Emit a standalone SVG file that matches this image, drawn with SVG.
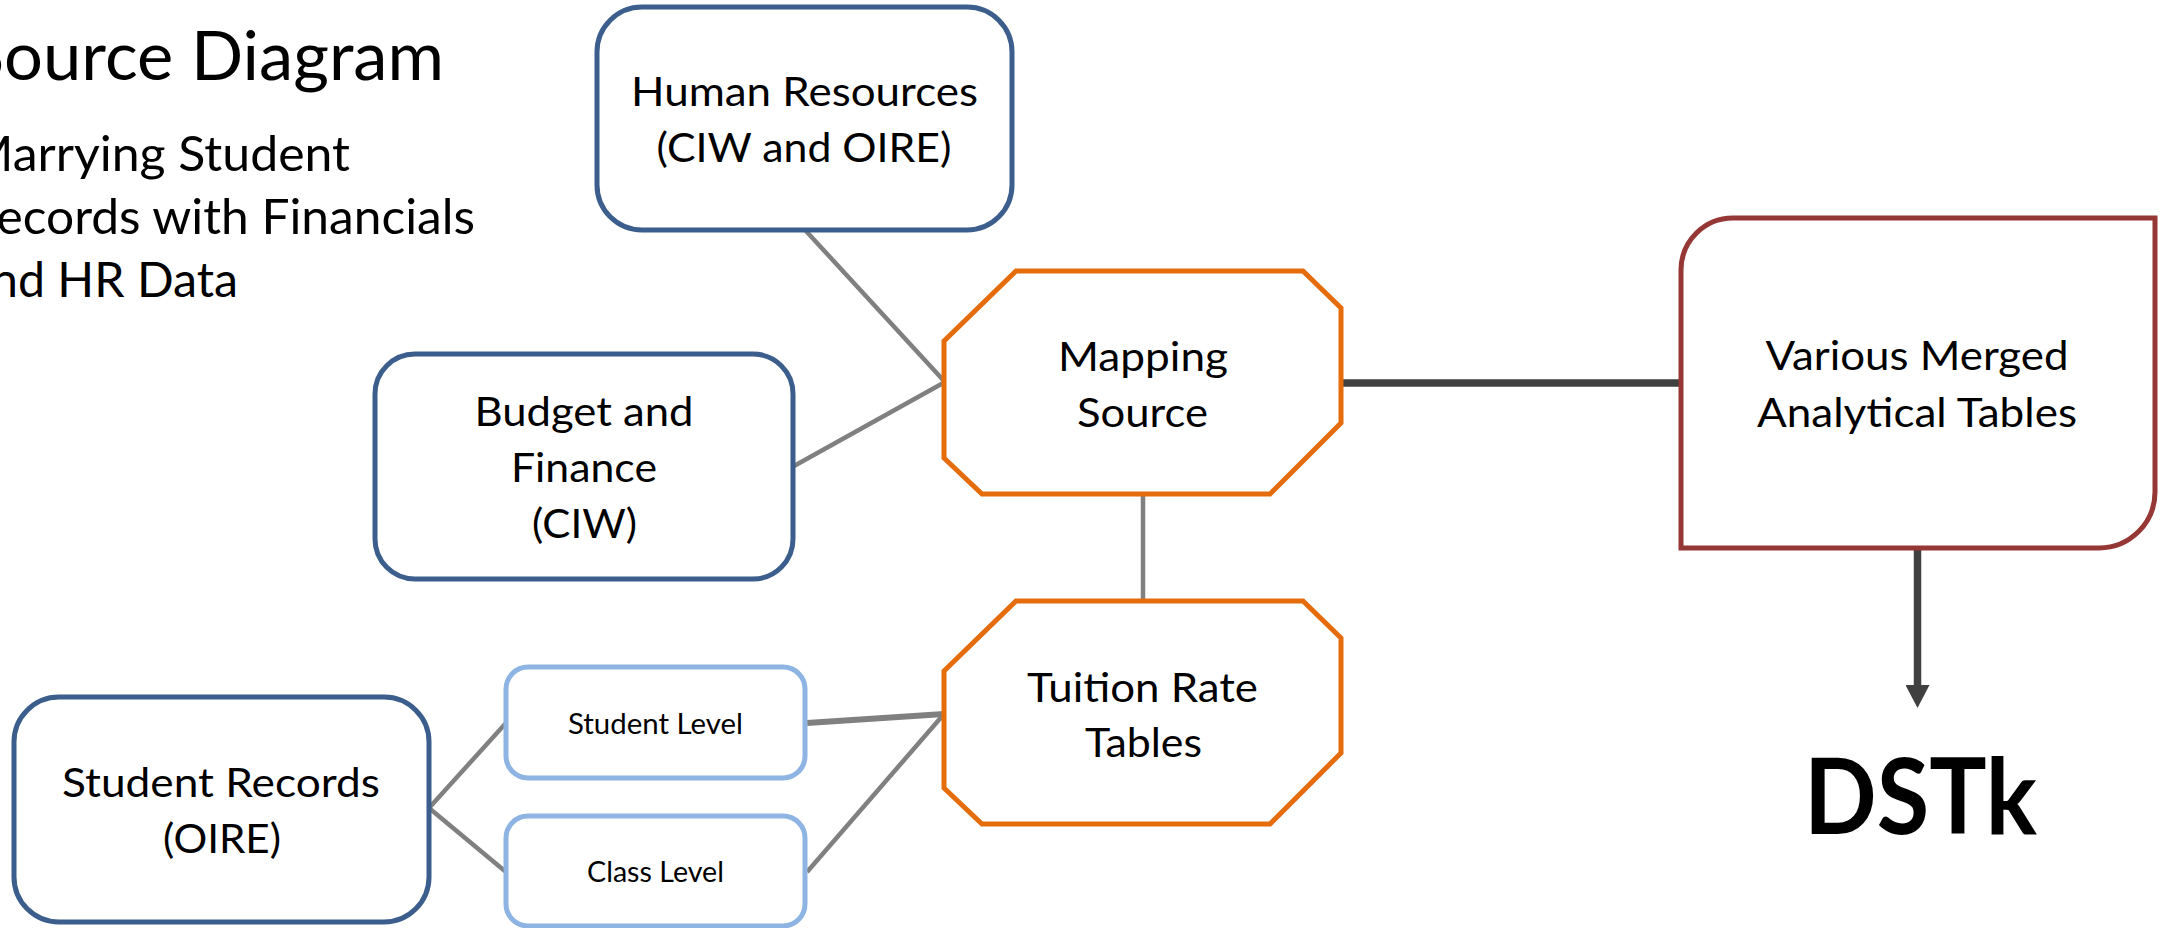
<svg xmlns="http://www.w3.org/2000/svg" width="2162" height="928" viewBox="0 0 2162 928">
<style>
text{font-family:Lato,"Liberation Sans",sans-serif;fill:#000}
.t{text-anchor:middle;font-size:41px}
.s{text-anchor:middle;font-size:28px}
.blue{fill:#fff;stroke:#3B5E8C;stroke-width:5}
.lblue{fill:#fff;stroke:#8DB4E2;stroke-width:5}
.orange{fill:#fff;stroke:#E46C0A;stroke-width:5;stroke-linejoin:miter}
.red{fill:#fff;stroke:#953735;stroke-width:5}
.g{stroke:#808080;stroke-width:4.5;fill:none}
.d{stroke:#404040;stroke-width:7.5;fill:none}
</style>
<defs>
<marker id="ah" markerUnits="userSpaceOnUse" markerWidth="24" markerHeight="24" viewBox="0 0 23 24" refX="0" refY="12" orient="auto">
<path d="M0,0 L23,12 L0,24 Z" fill="#404040"/>
</marker>
</defs>
<g id="title">
<text x="-33" y="80" font-size="67" textLength="477" lengthAdjust="spacingAndGlyphs">Source Diagram</text>
<text x="-33" y="171" font-size="47.5" textLength="383" lengthAdjust="spacingAndGlyphs">Marrying Student</text>
<text x="-33" y="234" font-size="47.5" textLength="508" lengthAdjust="spacingAndGlyphs">Records with Financials</text>
<text x="-33" y="297" font-size="47.5" textLength="271" lengthAdjust="spacingAndGlyphs">and HR Data</text>
</g>
<g id="connectors">
<path class="g" d="M806,231 L945,382"/>
<path class="g" d="M794,466 L945,382"/>
<path class="g" d="M1143,494 V601"/>
<path class="d" d="M1341,383 H1681"/>
<path class="d" d="M1917.5,548 V685" marker-end="url(#ah)"/>
<path class="g" d="M429,808 L506,723"/>
<path class="g" d="M429,808 L506,872"/>
<path class="g" style="stroke-width:6" d="M807,723 L944,714"/>
<path class="g" d="M807,872 L944,714"/>
</g>
<g id="human-resources">
<rect class="blue" x="597" y="7" width="415" height="223" rx="45"/>
<text class="t" x="804.5" y="106" textLength="347" lengthAdjust="spacingAndGlyphs">Human Resources</text>
<text class="t" x="804" y="162" textLength="295" lengthAdjust="spacingAndGlyphs">(CIW and OIRE)</text>
</g>
<g id="budget-finance">
<rect class="blue" x="375" y="354" width="418" height="225" rx="40"/>
<text class="t" x="584" y="426" textLength="219" lengthAdjust="spacingAndGlyphs">Budget and</text>
<text class="t" x="584" y="482" textLength="146" lengthAdjust="spacingAndGlyphs">Finance</text>
<text class="t" x="584.5" y="538" textLength="105" lengthAdjust="spacingAndGlyphs">(CIW)</text>
</g>
<g id="mapping-source">
<polygon class="orange" points="1016,271 1303,271 1341,308 1341,423 1270,494 982,494 944,458 944,341"/>
<text class="t" x="1143" y="371" textLength="170" lengthAdjust="spacingAndGlyphs">Mapping</text>
<text class="t" x="1142.5" y="427" textLength="131" lengthAdjust="spacingAndGlyphs">Source</text>
</g>
<g id="tuition-rate-tables">
<polygon class="orange" points="1016,601 1303,601 1341,638 1341,753 1270,824 982,824 944,788 944,671"/>
<text class="t" x="1142.5" y="702" textLength="231" lengthAdjust="spacingAndGlyphs">Tuition Rate</text>
<text class="t" x="1143.5" y="757" textLength="117" lengthAdjust="spacingAndGlyphs">Tables</text>
</g>
<g id="various-merged">
<path class="red" d="M1681,548 V270 A52,52 0 0 1 1733,218 H2155 V492 A56,56 0 0 1 2099,548 Z"/>
<text class="t" x="1917" y="370" textLength="303" lengthAdjust="spacingAndGlyphs">Various Merged</text>
<text class="t" x="1917" y="427" textLength="320" lengthAdjust="spacingAndGlyphs">Analytical Tables</text>
</g>
<g id="student-records">
<rect class="blue" x="14" y="697" width="415" height="225" rx="45"/>
<text class="t" x="221" y="797" textLength="318" lengthAdjust="spacingAndGlyphs">Student Records</text>
<text class="t" x="222" y="853" textLength="118" lengthAdjust="spacingAndGlyphs">(OIRE)</text>
</g>
<g id="student-level">
<rect class="lblue" x="506" y="667" width="299" height="111" rx="22"/>
<text class="s" x="655.5" y="734" textLength="175" lengthAdjust="spacingAndGlyphs">Student Level</text>
</g>
<g id="class-level">
<rect class="lblue" x="506" y="816" width="299" height="110" rx="22"/>
<text class="s" x="655.5" y="882" textLength="137" lengthAdjust="spacingAndGlyphs">Class Level</text>
</g>
<g id="dstk">
<text x="1920.5" y="834" font-size="105" font-weight="bold" text-anchor="middle" textLength="233" lengthAdjust="spacingAndGlyphs">DSTk</text>
</g>
</svg>
